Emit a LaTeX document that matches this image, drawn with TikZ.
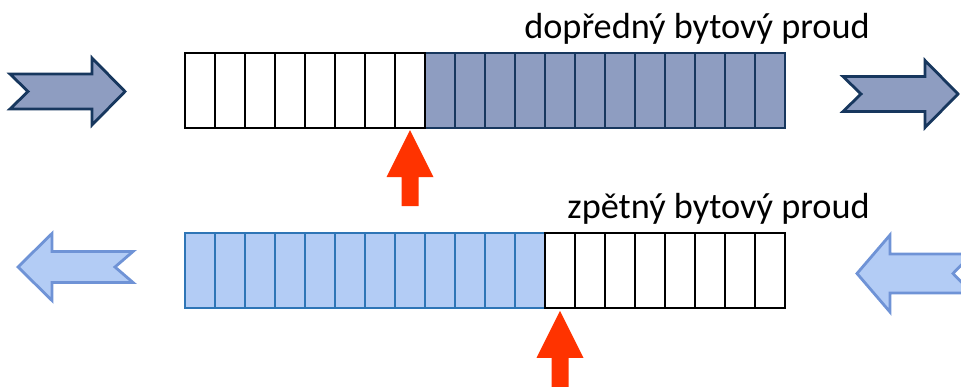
\documentclass[tikz,border=0pt]{standalone}
\usepackage{fontspec}
\setmainfont{Carlito}
\usepackage{tikz}
\definecolor{navy}{HTML}{17375E}
\definecolor{slate}{HTML}{8E9DC1}
\definecolor{sky}{HTML}{B3CCF5}
\definecolor{cobalt}{HTML}{2E75B6}
\definecolor{cornflower}{HTML}{6F93D6}
\definecolor{signal}{HTML}{FF3300}
\tikzset{cell/.style={rectangle,draw=black,line width=1.9pt,minimum width=0.75cm,minimum height=1.875cm,inner sep=0pt,outer sep=0pt},
fwdcell/.style={cell,draw=navy,fill=slate},
bwdcell/.style={cell,draw=cobalt,fill=sky},
fwdarrow/.style={draw=navy,fill=slate,line width=2pt},
bwdarrow/.style={draw=cornflower,fill=sky,line width=2pt},
ptr/.style={fill=signal},
lbl/.style={anchor=base east,inner sep=0pt,font=\fontsize{25.8}{30}\selectfont}}

\begin{document}
\begin{tikzpicture}[x=0.025cm,y=-0.025cm]
\clip (0,0) rectangle (961,387);
% byte cells, filled ones first so the white borders stay on top
\foreach \i in {8,...,19} \node[fwdcell] (f\i) at (200+30*\i,90.5) {};
\foreach \i in {0,...,7} \node[cell] (f\i) at (200+30*\i,90.5) {};
\foreach \i in {0,...,11} \node[bwdcell] (b\i) at (200+30*\i,270.5) {};
\foreach \i in {12,...,19} \node[cell] (b\i) at (200+30*\i,270.5) {};
% stream direction arrows
\draw[fwdarrow,shift={(10,91.5)}] (0,-17.5) -- (82,-17.5) -- (82,-33.5) -- (115,0) -- (82,33.5) -- (82,17.5) -- (0,17.5) -- (18,0) -- cycle;
\draw[fwdarrow,shift={(843,94)}] (0,-17.5) -- (82,-17.5) -- (82,-33.5) -- (115,0) -- (82,33.5) -- (82,17.5) -- (0,17.5) -- (18,0) -- cycle;
\draw[bwdarrow,shift={(133,267)},xscale=-1] (0,-15.5) -- (81,-15.5) -- (81,-33.5) -- (115,0) -- (81,33.5) -- (81,15.5) -- (0,15.5) -- (18,0) -- cycle;
\draw[bwdarrow,shift={(972,273.5)},xscale=-1] (0,-19.5) -- (82,-19.5) -- (82,-38.5) -- (115,0) -- (82,38.5) -- (82,19.5) -- (0,19.5) -- (19,0) -- cycle;
% position pointers
\fill[ptr] ([yshift=-1.5pt]f7.south) -- ++(23.5,47) -- ++(-15,0) -- ++(0,29) -- ++(-17,0) -- ++(0,-29) -- ++(-15,0) -- cycle;
\fill[ptr] ([yshift=-2pt]b12.south) -- ++(23.5,47) -- ++(-15,0) -- ++(0,29) -- ++(-17,0) -- ++(0,-29) -- ++(-15,0) -- cycle;
\node[lbl] (fwdlbl) at (870,39) {dopředný bytový proud};
\node[lbl] (bwdlbl) at (870,218) {zpětný bytový proud};
\end{tikzpicture}
\end{document}
